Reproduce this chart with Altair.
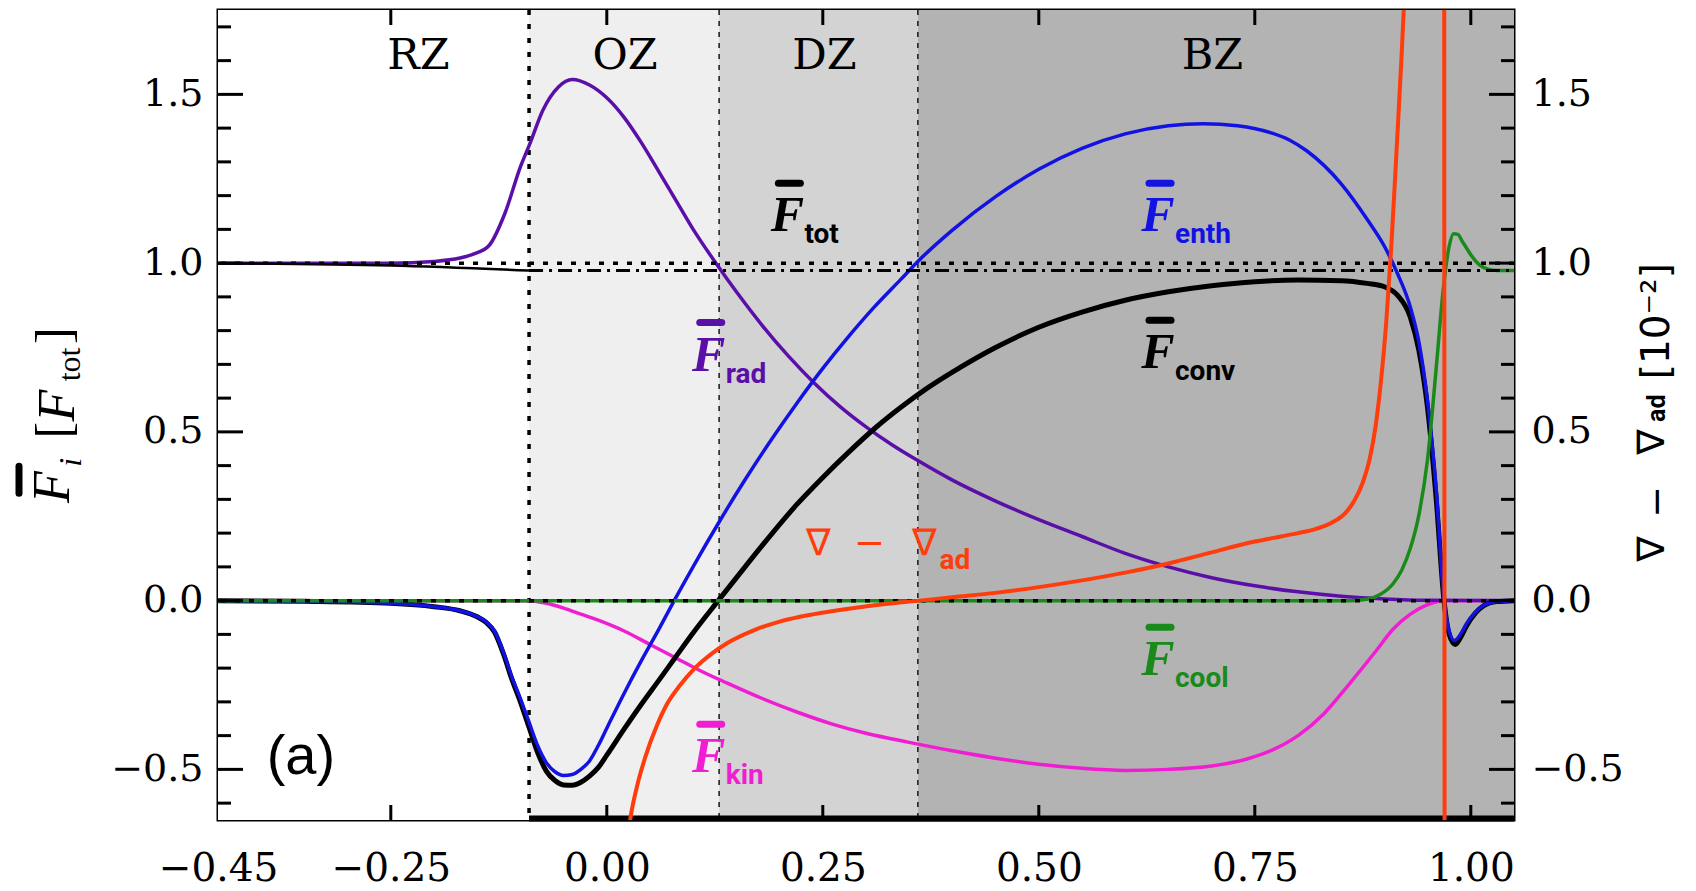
import altair as alt
import pandas as pd

# ---------------- layout ----------------
W, H = 1296, 810
PAD = {"left": 218, "top": 10, "right": 182, "bottom": 71}

# ---------------- axes ----------------
X_DOMAIN = [-0.45, 1.05]
Y_DOMAIN = [-0.65, 1.75]
X_LABELS = [-0.45, -0.25, 0.00, 0.25, 0.50, 0.75, 1.00]
X_MAJOR = [-0.25, 0.00, 0.25, 0.50, 0.75, 1.00]
Y_MAJOR = [-0.5, 0.0, 0.5, 1.0, 1.5]
Y_MINOR = [-0.6, -0.4, -0.3, -0.2, -0.1, 0.1, 0.2, 0.3, 0.4,
           0.6, 0.7, 0.8, 0.9, 1.1, 1.2, 1.3, 1.4, 1.6, 1.7]

# ---------------- zones ----------------
ZONE_NAMES = ["RZ", "OZ", "DZ", "BZ"]
ZONE_START = [-0.45, -0.09, 0.13, 0.36]
ZONE_END = [-0.09, 0.13, 0.36, 1.05]
ZONE_TEXT_X = [-0.218, 0.021, 0.252, 0.701]
ZONE_TEXT_Y = [1.615, 1.615, 1.615, 1.615]

REF_LEVELS = [0.0, 1.0]

# ---------------- flux profiles [F_tot] ----------------
RAD_X = [-0.45, -0.35, -0.25, -0.20, -0.17, -0.153, -0.136, -0.118, -0.100, -0.089,
         -0.074, -0.056, -0.040, -0.020, 0.000, 0.020, 0.040, 0.060, 0.080, 0.100,
         0.129, 0.150, 0.180, 0.210, 0.240, 0.270, 0.300, 0.330, 0.360, 0.400,
         0.450, 0.500, 0.550, 0.600, 0.650, 0.700, 0.750, 0.800, 0.850, 0.900,
         0.950, 1.050]
RAD_Y = [1.000, 1.000, 1.000, 1.005, 1.015, 1.028, 1.053, 1.147, 1.285, 1.354,
         1.453, 1.522, 1.544, 1.528, 1.490, 1.432, 1.357, 1.272, 1.186, 1.100,
         0.990, 0.915, 0.815, 0.725, 0.645, 0.575, 0.515, 0.462, 0.415, 0.357,
         0.295, 0.240, 0.190, 0.140, 0.100, 0.068, 0.044, 0.026, 0.013, 0.005,
         0.001, 0.000]

ENTH_X = [-0.45, -0.35, -0.25, -0.20, -0.17, -0.15, -0.14, -0.13, -0.12, -0.11,
          -0.10, -0.09, -0.08, -0.07, -0.06, -0.05, -0.04, -0.03, -0.02, -0.01,
          0.00, 0.02, 0.04, 0.06, 0.078, 0.10, 0.13, 0.16, 0.19, 0.22,
          0.25, 0.28, 0.31, 0.34, 0.36, 0.40, 0.45, 0.50, 0.55, 0.60,
          0.65, 0.69, 0.73, 0.77, 0.79, 0.81, 0.85, 0.88, 0.90, 0.915,
          0.93, 0.94, 0.95, 0.96, 0.969, 0.975, 0.981, 0.988, 0.995, 1.005,
          1.015, 1.03, 1.05]
ENTH_Y = [0.000, -0.002, -0.008, -0.018, -0.030, -0.047, -0.062, -0.090, -0.150, -0.225,
          -0.290, -0.360, -0.430, -0.480, -0.507, -0.518, -0.515, -0.500, -0.475, -0.430,
          -0.378, -0.275, -0.178, -0.086, 0.000, 0.101, 0.233, 0.358, 0.475, 0.585,
          0.688, 0.783, 0.871, 0.951, 1.005, 1.098, 1.197, 1.278, 1.340, 1.383,
          1.407, 1.413, 1.407, 1.385, 1.365, 1.333, 1.235, 1.130, 1.050, 0.970,
          0.870, 0.765, 0.590, 0.330, 0.000, -0.090, -0.118, -0.100, -0.068, -0.035,
          -0.014, -0.003, 0.000]

CONV_X = [-0.45, -0.35, -0.25, -0.20, -0.17, -0.15, -0.14, -0.13, -0.12, -0.11,
          -0.10, -0.09, -0.08, -0.07, -0.06, -0.05, -0.04, -0.03, -0.02, -0.01,
          0.00, 0.02, 0.04, 0.06, 0.078, 0.10, 0.129, 0.16, 0.19, 0.22,
          0.25, 0.28, 0.31, 0.34, 0.37, 0.40, 0.45, 0.50, 0.55, 0.60,
          0.65, 0.70, 0.75, 0.80, 0.85, 0.88, 0.90, 0.915, 0.93, 0.94,
          0.95, 0.96, 0.969, 0.975, 0.982, 0.988, 0.995, 1.005, 1.015, 1.03, 1.05]
CONV_Y = [0.000, -0.002, -0.008, -0.018, -0.030, -0.048, -0.064, -0.093, -0.155, -0.232,
          -0.300, -0.375, -0.450, -0.505, -0.533, -0.546, -0.547, -0.538, -0.520, -0.495,
          -0.458, -0.381, -0.307, -0.237, -0.173, -0.095, 0.000, 0.100, 0.195, 0.285,
          0.365, 0.440, 0.510, 0.572, 0.628, 0.677, 0.750, 0.810, 0.855, 0.890,
          0.915, 0.933, 0.945, 0.950, 0.948, 0.940, 0.930, 0.905, 0.840, 0.740,
          0.570, 0.300, 0.000, -0.100, -0.130, -0.110, -0.075, -0.038, -0.015, -0.003, 0.000]

KIN_X = [-0.45, -0.09, -0.07, -0.05, -0.03, -0.01, 0.02, 0.05, 0.08, 0.11,
         0.14, 0.18, 0.22, 0.26, 0.30, 0.35, 0.40, 0.45, 0.50, 0.55,
         0.60, 0.65, 0.70, 0.74, 0.77, 0.80, 0.83, 0.86, 0.89, 0.91,
         0.93, 0.95, 0.967, 1.05]
KIN_Y = [0.000, 0.000, -0.008, -0.022, -0.040, -0.058, -0.090, -0.130, -0.170, -0.210,
         -0.245, -0.290, -0.330, -0.365, -0.393, -0.420, -0.445, -0.467, -0.485, -0.497,
         -0.503, -0.500, -0.490, -0.470, -0.443, -0.400, -0.335, -0.245, -0.150, -0.085,
         -0.040, -0.012, 0.000, 0.000]

COOL_X = [-0.45, 0.860, 0.880, 0.895, 0.910, 0.920, 0.930, 0.940, 0.950, 0.960,
          0.968, 0.975, 0.980, 0.985, 0.990, 0.995, 1.000, 1.010, 1.020, 1.030, 1.050]
COOL_Y = [0.000, 0.000, 0.004, 0.018, 0.050, 0.090, 0.155, 0.255, 0.420, 0.690,
          0.920, 1.050, 1.087, 1.085, 1.065, 1.045, 1.025, 0.995, 0.982, 0.978, 0.978]

TOT_X = [-0.45, -0.25, -0.09, 0.30, 0.60, 0.90, 1.05]
TOT_Y = [1.000, 0.993, 0.978, 0.978, 0.978, 0.978, 0.978]

# superadiabaticity nabla - nabla_ad [1e-2]
GRAD_X = [0.020, 0.027, 0.035, 0.045, 0.058, 0.070, 0.085, 0.100, 0.120, 0.140,
          0.170, 0.200, 0.240, 0.280, 0.320, 0.362, 0.400, 0.450, 0.500, 0.550,
          0.600, 0.650, 0.700, 0.750, 0.780, 0.800, 0.820, 0.840, 0.855, 0.865,
          0.875, 0.883, 0.890, 0.896, 0.902, 0.908, 0.914, 0.920, 0.926, 0.935,
          0.950, 0.9685, 0.9705, 0.975]
GRAD_Y = [-0.800, -0.650, -0.550, -0.460, -0.370, -0.305, -0.250, -0.205, -0.160, -0.125,
          -0.088, -0.062, -0.040, -0.024, -0.011, 0.000, 0.010, 0.023, 0.040, 0.060,
          0.083, 0.110, 0.143, 0.175, 0.190, 0.200, 0.212, 0.232, 0.260, 0.295,
          0.350, 0.420, 0.520, 0.650, 0.820, 1.050, 1.330, 1.620, 1.950, 2.500,
          4.000, 6.000, -6.000, -8.000]

# ---------------- annotations ----------------
LABEL_KEYS = ["tot", "enth", "rad", "conv", "cool", "kin"]
LABEL_X = [0.209, 0.638, 0.118, 0.638, 0.638, 0.118]
LABEL_Y = [1.145, 1.145, 0.732, 0.739, -0.171, -0.458]

GRAD_LABEL_X = [0.245]
GRAD_LABEL_Y = [0.174]

PANEL_TAG = ["(a)"]
PANEL_TAG_X = [-0.354]
PANEL_TAG_Y = [-0.464]

# ---------------- styling ----------------
COLORS = {"tot": "black", "enth": "#1212e2", "rad": "#5a10a8", "conv": "black",
          "cool": "#1a8a1a", "kin": "#f01ed2", "grad": "#ff3c0c"}
ZONE_FILLS = ["#ffffff", "#efefef", "#d3d3d3", "#b3b3b3"]
SERIF = "DejaVu Serif"
FSERIF = "Liberation Serif"
SUB_FONT = "Roboto"

XS = alt.Scale(domain=X_DOMAIN, nice=False, zero=False)
YS = alt.Scale(domain=Y_DOMAIN, nice=False, zero=False)

X_AXIS = alt.Axis(orient="bottom", values=X_LABELS, format=".2f", labelFont=SERIF,
                  labelFontSize=39, labelColor="black", labelFlush=False,
                  labelOverlap=False, labelPadding=29, ticks=False, tickSize=0,
                  domain=False, grid=False, title=None)


def y_axis(orient, pad):
    return alt.Axis(orient=orient, values=Y_MAJOR, format=".1f", labelFont=SERIF,
                    labelFontSize=38, labelColor="black", labelPadding=pad,
                    labelOverlap=False, labelFlush=False, ticks=False, tickSize=0,
                    domain=False, grid=False, title=None)


Y_LEFT = y_axis("left", 15)
Y_RIGHT = y_axis("right", 17)


def px(field):
    return alt.X(field, type="quantitative", scale=XS, axis=X_AXIS)


def py(field, axis=Y_LEFT):
    return alt.Y(field, type="quantitative", scale=YS, axis=axis)


def pxd(v):
    return alt.XDatum(v, type="quantitative", scale=XS, axis=X_AXIS)


def pyd(v):
    return alt.YDatum(v, type="quantitative", scale=YS, axis=Y_LEFT)


layers = []

# zone shading
zones = pd.DataFrame({"zone": ZONE_NAMES, "start": ZONE_START, "end": ZONE_END,
                      "tx": ZONE_TEXT_X, "ty": ZONE_TEXT_Y})
for i, fill in enumerate(ZONE_FILLS):
    layers.append(
        alt.Chart(zones.iloc[[i]]).mark_rect(color=fill).encode(
            x=px("start"), x2=alt.X2("end"))
    )

# zone boundaries
layers.append(
    alt.Chart(zones.iloc[2:]).mark_rule(color="#222222", strokeWidth=1.6,
                                        strokeDash=[5, 6]).encode(x=px("start"))
)
layers.append(
    alt.Chart(zones.iloc[[1]]).mark_rule(color="black", strokeWidth=3.5,
                                         strokeDash=[5, 9]).encode(x=px("start"))
)
layers.append(
    alt.Chart(zones.iloc[[1]]).mark_rule(color="black", strokeWidth=6, yOffset=-1.5).encode(
        x=px("start"), x2=alt.X2Datum(X_DOMAIN[1]), y=pyd(Y_DOMAIN[0]))
)


def curve(xs, ys, color, width, dash=None):
    df = pd.DataFrame({"x": xs, "y": ys})
    props = dict(color=color, strokeWidth=width, clip=True, interpolate="monotone",
                 strokeJoin="round")
    if dash:
        props["strokeDash"] = dash
    return alt.Chart(df).mark_line(**props).encode(x=px("x"), y=py("y"))


layers.append(curve(KIN_X, KIN_Y, COLORS["kin"], 3.5))
layers.append(curve(RAD_X, RAD_Y, COLORS["rad"], 3.5))
layers.append(curve(CONV_X, CONV_Y, COLORS["conv"], 5))
layers.append(curve(ENTH_X, ENTH_Y, COLORS["enth"], 3.5))
layers.append(curve(COOL_X, COOL_Y, COLORS["cool"], 3.5))

# total flux: solid inside the radiative zone, dash-dot beyond
edge = ZONE_START[1]
tot_inner = [(a, b) for a, b in zip(TOT_X, TOT_Y) if a <= edge]
tot_outer = [(a, b) for a, b in zip(TOT_X, TOT_Y) if a >= edge]
layers.append(curve([p[0] for p in tot_inner], [p[1] for p in tot_inner], "black", 2.5))
layers.append(curve([p[0] for p in tot_outer], [p[1] for p in tot_outer], "black", 3,
                    dash=[14, 6, 3, 6]))

# reference levels 0 and 1
layers.append(
    alt.Chart(pd.DataFrame({"v": REF_LEVELS})).mark_rule(
        color="black", strokeWidth=3.5, strokeDash=[5, 9]).encode(y=py("v"))
)

# inward ticks on all four sides
ymaj = pd.DataFrame({"v": Y_MAJOR})
ymin = pd.DataFrame({"v": Y_MINOR})
xmaj = pd.DataFrame({"v": X_MAJOR})
for df, length in ((ymaj, 25), (ymin, 13)):
    layers.append(alt.Chart(df).mark_rule(color="black", strokeWidth=3, x2Offset=length).encode(
        y=py("v"), x=pxd(X_DOMAIN[0]), x2=alt.X2Datum(X_DOMAIN[0])))
    layers.append(alt.Chart(df).mark_rule(color="black", strokeWidth=3, x2Offset=-length).encode(
        y=py("v"), x=pxd(X_DOMAIN[1]), x2=alt.X2Datum(X_DOMAIN[1])))
layers.append(alt.Chart(xmaj).mark_rule(color="black", strokeWidth=3, y2Offset=-15).encode(
    x=px("v"), y=pyd(Y_DOMAIN[0]), y2=alt.Y2Datum(Y_DOMAIN[0])))
layers.append(alt.Chart(xmaj).mark_rule(color="black", strokeWidth=3, y2Offset=15).encode(
    x=px("v"), y=pyd(Y_DOMAIN[1]), y2=alt.Y2Datum(Y_DOMAIN[1])))

# zone names
layers.append(
    alt.Chart(zones).mark_text(font=SERIF, fontSize=43, color="black", align="center",
                               baseline="middle").encode(x=px("tx"), y=py("ty"), text="zone:N")
)

# flux labels: barred F with subscript
for key, lx, ly in zip(LABEL_KEYS, LABEL_X, LABEL_Y):
    d = pd.DataFrame({"x": [lx], "y": [ly], "sub": [key]})
    c = COLORS[key]
    base = alt.Chart(d).encode(x=px("x"), y=py("y"))
    layers.append(base.mark_text(text="F", font=FSERIF, fontStyle="italic", fontWeight="bold",
                                 fontSize=50, color=c, align="center", baseline="alphabetic",
                                 dy=17))
    layers.append(base.mark_rule(color=c, strokeWidth=7, strokeCap="round", xOffset=-9,
                                 x2Offset=13, yOffset=-31).encode(x2=alt.X2("x")))
    layers.append(base.mark_text(font=SUB_FONT, fontWeight="bold", fontSize=28, color=c,
                                 align="left", baseline="alphabetic", dx=17, dy=29
                                 ).encode(text="sub:N"))

# nabla - nabla_ad label
gd = pd.DataFrame({"x": GRAD_LABEL_X, "y": GRAD_LABEL_Y})
gbase = alt.Chart(gd).encode(x=px("x"), y=py("y"))
red = COLORS["grad"]
for txt, dx in (("∇", 0), ("−", 51), ("∇", 106)):
    layers.append(gbase.mark_text(text=txt, font="DejaVu Sans", fontSize=37, color=red,
                                  align="center", baseline="alphabetic", dx=dx, dy=13))
layers.append(gbase.mark_text(text="ad", font=SUB_FONT, fontWeight="bold", fontSize=28,
                              color=red, align="left", baseline="alphabetic", dx=121, dy=27))

# panel tag
layers.append(
    alt.Chart(pd.DataFrame({"x": PANEL_TAG_X, "y": PANEL_TAG_Y, "t": PANEL_TAG})).mark_text(
        font="Liberation Sans", fontSize=56, color="black", align="center", baseline="middle"
    ).encode(x=px("x"), y=py("y"), text="t:N")
)


# axis titles (rotated, read bottom to top)
def title_piece(text, xpix, yval, font, size, style="normal", weight="normal"):
    return alt.Chart(pd.DataFrame({"t": [text]})).mark_text(
        font=font, fontSize=size, fontStyle=style, fontWeight=weight, color="black",
        angle=270, align="center", baseline="middle"
    ).encode(x=alt.value(xpix), y=pyd(yval), text="t:N")


layers += [
    title_piece("F", -165, 0.336, FSERIF, 52, style="italic"),
    title_piece("i", -147, 0.410, FSERIF, 32, style="italic"),
    title_piece("[", -163, 0.505, FSERIF, 50),
    title_piece("F", -160, 0.578, FSERIF, 52, style="italic"),
    title_piece("tot", -148, 0.700, FSERIF, 32),
    title_piece("]", -163, 0.785, FSERIF, 50),
]
layers.append(
    alt.Chart(pd.DataFrame({"a": [0]})).mark_rule(color="black", strokeWidth=7,
                                                   strokeCap="round").encode(
        x=alt.value(-199), y=pyd(0.398), y2=alt.Y2Datum(0.318))
)
layers += [
    title_piece("∇", W + 139, 0.153, "DejaVu Sans", 38),
    title_piece("−", W + 144, 0.293, "DejaVu Sans", 38),
    title_piece("∇", W + 139, 0.470, "DejaVu Sans", 38),
    title_piece("ad", W + 143, 0.570, SUB_FONT, 25, weight="bold"),
    title_piece("[10⁻²]", W + 143, 0.828, "DejaVu Sans", 39),
]

left_group = alt.layer(*layers)

grad_df = pd.DataFrame({"x": GRAD_X, "y": GRAD_Y})
right_group = alt.layer(
    alt.Chart(grad_df).mark_line(color=red, strokeWidth=4, clip=True, interpolate="monotone",
                                 strokeJoin="round").encode(
        x=px("x"), y=py("y", Y_RIGHT))
)

chart = alt.layer(left_group, right_group).resolve_scale(y="independent").properties(
    width=W, height=H, padding=PAD, background="white",
    autosize=alt.AutoSizeParams(type="none"),
).configure_view(stroke="black", strokeWidth=3)

chart.save("out.html", embed_options={"renderer": "svg", "actions": False})
